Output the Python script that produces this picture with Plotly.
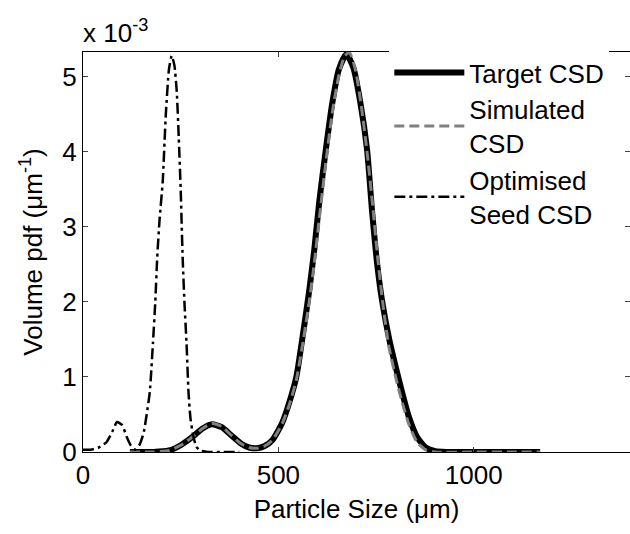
import plotly.graph_objects as go

# Particle size grid (um) and volume pdf values (in units of 1e-3 per um)
target_size = [120, 180, 220, 250, 280, 305, 330, 355, 380, 405, 425, 445, 465, 485,
               510, 528, 546, 561, 579, 592, 605, 622, 638, 655, 674, 692, 710, 727,
               740, 753, 765, 783, 801, 817, 834, 855, 877, 902, 930, 1000, 1100, 1170]
target_pdf = [0, 0, 0.02, 0.09, 0.2, 0.31, 0.37, 0.33, 0.22, 0.11, 0.06, 0.05, 0.08, 0.16,
              0.39, 0.66, 1.0, 1.5, 2.15, 2.7, 3.35, 4.05, 4.65, 5.1, 5.3, 5.12, 4.65, 4.03,
              3.2, 2.5, 2.03, 1.52, 1.12, 0.79, 0.47, 0.2, 0.06, 0.01, 0, 0, 0, 0]

sim_size = [120, 180, 220, 250, 280, 305, 330, 355, 380, 405, 425, 445, 465, 485,
            510, 528, 546, 561, 579, 592, 605, 622, 638, 655, 670, 682, 697, 712, 727,
            742, 755, 768, 783, 801, 817, 834, 855, 877, 900, 1000, 1100, 1170]
sim_pdf = [0, 0, 0.02, 0.09, 0.2, 0.31, 0.38, 0.34, 0.22, 0.11, 0.06, 0.05, 0.08, 0.16,
           0.38, 0.63, 0.96, 1.4, 2.0, 2.52, 3.12, 3.88, 4.52, 5.02, 5.28, 5.32, 5.1, 4.62, 4.0,
           3.25, 2.55, 1.95, 1.4, 0.98, 0.66, 0.37, 0.13, 0.03, 0, 0, 0, 0]

seed_size = [0, 20, 40, 60, 75, 87, 100, 112, 122, 133, 145, 155, 163, 171, 179, 185,
             190, 196, 204, 212, 220, 227, 234, 240, 245, 250, 255, 260, 265, 270, 275,
             282, 290, 300, 320, 360, 400]
seed_pdf = [0.03, 0.03, 0.06, 0.13, 0.27, 0.4, 0.36, 0.2, 0.09, 0.03, 0.1, 0.25, 0.5, 0.8,
            1.45, 2.0, 2.6, 3.1, 3.6, 4.5, 5.1, 5.28, 5.15, 4.8, 4.2, 3.5, 2.6, 1.95, 1.45,
            0.8, 0.45, 0.22, 0.07, 0.02, 0, 0, 0]

y_ticks = [0, 1, 2, 3, 4, 5]
x_ticks = [0, 500, 1000]

FONT = "Liberation Sans, Arial, sans-serif"
Y_MAX = 5.33

fig = go.Figure()
fig.add_trace(go.Scatter(x=target_size, y=target_pdf, mode="lines", name="Target CSD",
                         line=dict(color="black", width=6, shape="spline", smoothing=0.6)))
fig.add_trace(go.Scatter(x=sim_size, y=sim_pdf, mode="lines", name="Simulated<br>CSD",
                         line=dict(color="#808080", width=3, dash="10px,5px",
                                   shape="spline", smoothing=0.6)))
fig.add_trace(go.Scatter(x=seed_size, y=seed_pdf, mode="lines", name="Optimised<br>Seed CSD",
                         yaxis="y2",
                         line=dict(color="black", width=2.5, dash="11px,4px,3px,4px",
                                   shape="spline", smoothing=0.5)))

fig.update_layout(
    width=630, height=534,
    margin=dict(l=83, r=0, t=52, b=82),
    paper_bgcolor="white", plot_bgcolor="white",
    font=dict(family=FONT, size=26, color="black"),
    showlegend=True,
    legend=dict(x=0.56, y=1.0075, xanchor="left", yanchor="top",
                bgcolor="white", borderwidth=0, itemwidth=70,
                font=dict(size=26), tracegroupgap=0),
    xaxis=dict(range=[0, 1400], tickvals=x_ticks, ticks="inside", ticklen=5,
               showline=True, linecolor="black", linewidth=1, mirror="ticks",
               showgrid=False, zeroline=False, tickfont=dict(size=26),
               title=dict(text="Particle Size (\u03bcm)", font=dict(size=26), standoff=10)),
    yaxis=dict(range=[0, Y_MAX], tickvals=y_ticks, ticks="inside", ticklen=5,
               showline=True, linecolor="black", linewidth=1,
               showgrid=False, zeroline=False, tickfont=dict(size=26),
               title=dict(text="Volume pdf (\u03bcm<sup>-1</sup>)", font=dict(size=26),
                          standoff=12)),
    yaxis2=dict(range=[0, Y_MAX], tickvals=y_ticks, ticks="inside", ticklen=5,
                overlaying="y", side="right", showline=False, showgrid=False,
                zeroline=False, showticklabels=False),
    annotations=[dict(text="x 10<sup>-3</sup>", xref="paper", yref="paper", x=0, y=1,
                      xanchor="left", yanchor="bottom", yshift=2, xshift=-2,
                      showarrow=False, font=dict(size=26))],
)

fig.write_html("out.html")
